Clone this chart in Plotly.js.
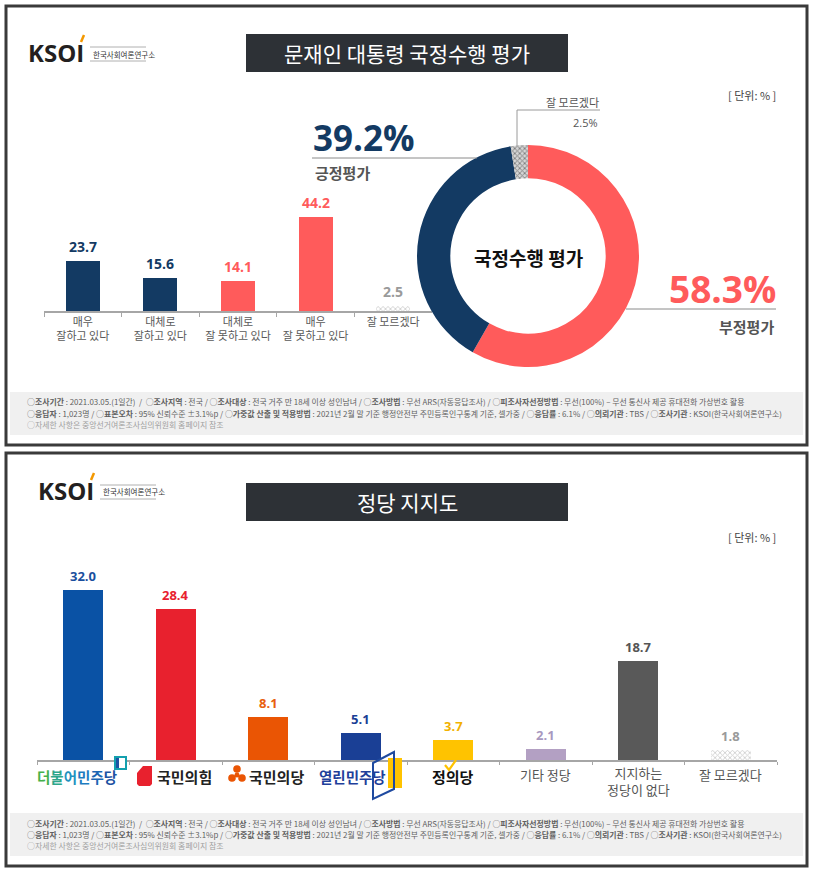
<!DOCTYPE html>
<html><head><meta charset="utf-8">
<script src="https://cdn.plot.ly/plotly-3.0.1.min.js"></script>
<style>html,body{margin:0;padding:0;background:#fff;}#chart{width:814px;height:874px;}</style>
</head><body><div id="chart"></div>
<script>
// ---------- DATA ----------
const evalCategories = ['매우<br>잘하고 있다', '대체로<br>잘하고 있다', '대체로<br>잘 못하고 있다', '매우<br>잘 못하고 있다', '잘 모르겠다'];
const evalValues = [23.7, 15.6, 14.1, 44.2, 2.5];
const donutLabels = ['부정평가', '긍정평가', '잘 모르겠다'];
const donutValues = [58.3, 39.2, 2.5];
const partyCategories = ['더불어민주당', '국민의힘', '국민의당', '열린민주당', '정의당', '기타 정당', '지지하는<br>정당이 없다', '잘 모르겠다'];
const partyValues = [32.0, 28.4, 8.1, 5.1, 3.7, 2.1, 18.7, 1.8];
const title1 = '문재인 대통령 국정수행 평가';
const title2 = '정당 지지도';
const donutCenter = '국정수행 평가';
const unitText = '[ 단위: % ]';
const footerLines = [
  '○<b>조사기간</b> : 2021.03.05.(1일간)  /  ○<b>조사지역</b> : 전국 / ○<b>조사대상</b> : 전국 거주 만 18세 이상 성인남녀 / ○<b>조사방법</b> : 무선 ARS(자동응답조사) / ○<b>피조사자선정방법</b> : 무선(100%) – 무선 통신사 제공 휴대전화 가상번호 활용',
  '○<b>응답자</b> : 1,023명 / ○<b>표본오차</b> : 95% 신뢰수준 ±3.1%p / ○<b>가중값 산출 및 적용방법</b> : 2021년 2월 말 기준 행정안전부 주민등록인구통계 기준, 셀가중 / ○<b>응답률</b> : 6.1% / ○<b>의뢰기관</b> : TBS / ○<b>조사기관</b> : KSOI(한국사회여론연구소)',
  '○자세한 사항은 중앙선거여론조사심의위원회 홈페이지 참조'
];

// ---------- STYLE ----------
const W = 814, H = 874;
const KR = '"Noto Sans CJK KR", "Noto Sans", sans-serif';
const NUM = '"Open Sans", "Noto Sans CJK KR", sans-serif';
const NAVY = '#133a63', CORAL = '#ff5b5b';
const evalColors = [NAVY, NAVY, CORAL, CORAL, '#d0d0d0'];
const evalLabelColors = [NAVY, NAVY, CORAL, CORAL, '#9a9a9a'];
const partyColors = ['#0a52a5', '#e8212e', '#ea5504', '#1a3f95', '#ffc300', '#b3a0c3', '#595959', '#d0d0d0'];
const partyLabelColors = ['#1a4f9e', '#e8212e', '#e8600e', '#1a3f95', '#f2b100', '#a898bf', '#555555', '#9a9a9a'];
const PAT = {fgcolor:'#7a7a7a', bgcolor:'#d6d6d6', size:3.5, solidity:0.45};

const fx = x => x / W, fy = y => 1 - y / H;
function rect(x0, y0, x1, y1, o) { return Object.assign({type:'rect', xref:'paper', yref:'paper', x0:fx(x0), x1:fx(x1), y0:fy(y0), y1:fy(y1), line:{width:0}}, o||{}); }
function line(x0, y0, x1, y1, color, w) { return {type:'line', xref:'paper', yref:'paper', x0:fx(x0), x1:fx(x1), y0:fy(y0), y1:fy(y1), line:{color:color, width:w||1}}; }
function path(pts, close, o) {
  let s = pts.map((p,i) => (i? 'L ':'M ') + fx(p[0]).toFixed(5) + ' ' + fy(p[1]).toFixed(5)).join(' ');
  if (close) s += ' Z';
  return Object.assign({type:'path', xref:'paper', yref:'paper', path:s}, o||{});
}
function circ(cx, cy, r, color) { return {type:'circle', xref:'paper', yref:'paper', x0:fx(cx-r), x1:fx(cx+r), y0:fy(cy+r), y1:fy(cy-r), fillcolor:color, line:{width:0}}; }
function txt(x, y, text, font, o) { return Object.assign({xref:'paper', yref:'paper', x:fx(x), y:fy(y), text:text, showarrow:false, font:font, xanchor:'center', yanchor:'middle'}, o||{}); }

// ---------- TRACES ----------
const traces = [
  { type:'bar', x:evalCategories, y:evalValues, xaxis:'x', yaxis:'y', width:0.44,
    marker:{color:evalColors, line:{width:0},
      pattern:Object.assign({shape:evalValues.map((v,i)=> i===4?'x':'')}, PAT)},
    hoverinfo:'none' },
  { type:'pie', labels:donutLabels, values:donutValues, sort:false, direction:'clockwise', rotation:0,
    hole:0.70, textinfo:'none', hoverinfo:'none',
    domain:{x:[fx(417), fx(639)], y:[fy(367), fy(145)]},
    marker:{colors:[CORAL, NAVY, '#d0d0d0'], line:{width:0},
      pattern:Object.assign({shape:['', '', 'x']}, PAT)} },
  { type:'bar', x:partyCategories, y:partyValues, xaxis:'x2', yaxis:'y2', width:0.43,
    marker:{color:partyColors, line:{width:0},
      pattern:Object.assign({shape:partyValues.map((v,i)=> i===7?'x':'')}, PAT)},
    hoverinfo:'none' }
];

// ---------- ANNOTATIONS ----------
const ann = [];
ann.push(txt(407, 53, title1, {family:KR, size:21, color:'#ffffff'}));
ann.push(txt(407, 502, title2, {family:KR, size:21, color:'#ffffff'}));
[[26, 52, 91, 54], [36, 490, 101, 492]].forEach(([lx, ly, sx, sy]) => {
  ann.push(txt(lx, ly, 'KSOI', {family:NUM, size:24, color:'#231f20', weight:700}, {xanchor:'left'}));
  ann.push(txt(sx, sy, '한국사회여론연구소', {family:KR, size:7.5, color:'#333'}, {xanchor:'left'}));
});
ann.push(txt(778, 95, unitText, {family:KR, size:11, color:'#444'}, {xanchor:'right'}));
ann.push(txt(778, 537, unitText, {family:KR, size:11, color:'#444'}, {xanchor:'right'}));

// chart1 value labels
evalCategories.forEach((c,i) => ann.push({xref:'x', yref:'y', x:c, y:evalValues[i], text:'<b>'+evalValues[i].toFixed(1)+'</b>',
  showarrow:false, yanchor:'bottom', yshift:3, font:{family:NUM, size:14, color:evalLabelColors[i]}}));
// donut labels
ann.push(txt(311, 137, '<b>'+donutValues[1].toFixed(1)+'%</b>', {family:NUM, size:35, color:NAVY}, {xanchor:'left'}));
ann.push(txt(313, 172, '<b>'+donutLabels[1]+'</b>', {family:KR, size:15, color:'#555'}, {xanchor:'left'}));
ann.push(txt(778, 288, '<b>'+donutValues[0].toFixed(1)+'%</b>', {family:NUM, size:37, color:CORAL}, {xanchor:'right'}));
ann.push(txt(776, 326, '<b>'+donutLabels[0]+'</b>', {family:KR, size:15, color:'#555'}, {xanchor:'right'}));
ann.push(txt(601, 102, donutLabels[2], {family:KR, size:11, color:'#555'}, {xanchor:'right'}));
ann.push(txt(600, 122, donutValues[2].toFixed(1)+'%', {family:NUM, size:11, color:'#555'}, {xanchor:'right'}));
ann.push(txt(528, 257, '<b>'+donutCenter+'</b>', {family:KR, size:19, color:'#111'}));

// chart2 value labels
partyCategories.forEach((c,i) => ann.push({xref:'x2', yref:'y2', x:c, y:partyValues[i], text:'<b>'+partyValues[i].toFixed(1)+'</b>',
  showarrow:false, yanchor:'bottom', yshift:3, font:{family:NUM, size:13, color:partyLabelColors[i]}}));
// chart2 category labels (party logos as styled text)
const gradient = ['#45b14b', '#2ea68b', '#1f92c0', '#1d7cc0', '#1c66b3', '#1d53a3'];
const partyLabelText = [
  '<b>' + partyCategories[0].split('').map((ch,k)=>'<span style="color:'+gradient[k]+'">'+ch+'</span>').join('') + '</b>',
  '<b>'+partyCategories[1]+'</b>', '<b>'+partyCategories[2]+'</b>', '<b>'+partyCategories[3]+'</b>', '<b>'+partyCategories[4]+'</b>',
  partyCategories[5], partyCategories[6], partyCategories[7]
];
const partyLabelStyle = [
  {size:14.5, color:'#1d66b3', dx:-6, y:776},
  {size:15, color:'#222', dx:9, y:776},
  {size:15, color:'#222', dx:8, y:776},
  {size:14.5, color:'#1f3f9a', dx:-8, y:776},
  {size:15, color:'#111', dx:0, y:776},
  {size:13, color:'#555', dx:0, y:774},
  {size:13, color:'#555', dx:0, y:781},
  {size:13, color:'#555', dx:0, y:774}
];
partyCategories.forEach((c,i) => {
  const s = partyLabelStyle[i];
  ann.push({xref:'x2', yref:'paper', x:c, y:fy(s.y), xshift:s.dx, text:partyLabelText[i], showarrow:false,
    xanchor:'center', yanchor:'middle', font:{family:KR, size:s.size, color:s.color}});
});
// footers
[[402, 413, 424], [823, 834, 845]].forEach(ys => {
  footerLines.forEach((t,k) => ann.push(txt(25, ys[k], t, {family:KR, size:7.9, color: k===2 ? '#a0a0a0' : '#606060'}, {xanchor:'left'})));
});

// ---------- SHAPES ----------
const shapes = [
  rect(10, 392, 803, 435, {fillcolor:'#f0f0f0', layer:'below'}),
  rect(10, 813, 803, 856, {fillcolor:'#f0f0f0', layer:'below'}),
  rect(6, 6, 807, 445, {line:{color:'#3a3a3a', width:3}}),
  rect(6, 453, 807, 866, {line:{color:'#3a3a3a', width:3}}),
  rect(246, 34, 568, 72, {fillcolor:'#2d3136'}),
  rect(246, 483, 568, 521, {fillcolor:'#2d3136'}),
  // logo decorations
  line(90, 47, 146, 47, '#b0b0b0', 1), line(90, 61, 146, 61, '#b0b0b0', 1),
  line(81, 42, 84, 35, '#f39800', 2.5),
  line(100, 485, 156, 485, '#b0b0b0', 1), line(100, 499, 156, 499, '#b0b0b0', 1),
  line(91, 480, 94, 473, '#f39800', 2.5),
  // donut leader lines
  line(312, 158, 477, 158, '#8a8a8a', 1),
  line(626, 309, 776, 309, '#8a8a8a', 1),
  path([[517,146],[517,110],[600,110]], false, {line:{color:'#9a9a9a', width:1}}),
  // 더불어민주당 icon
  rect(115, 757, 126, 769, {fillcolor:'#ffffff', line:{color:'#13a0ae', width:2}}),
  rect(116, 758, 119, 768, {fillcolor:'#1d53a3'}),
  // 국민의힘 icon
  path([[143,766],[152,766],[152,784],[150,786],[139,786],[137,784],[137,773]], true, {fillcolor:'#e8212e', line:{width:0}}),
  // 국민의당 icon
  circ(237, 769, 3.8, '#ea5504'), circ(232, 778, 3.8, '#ea5504'), circ(242, 778, 3.8, '#ea5504'), circ(237, 775, 2.5, '#ea5504'),
  // 열린민주당 icon
  rect(388, 758, 402, 788, {fillcolor:'#ffc300'}),
  path([[373,763],[394,752],[394,789],[373,799]], true, {line:{color:'#1f4aa0', width:2}}),
  // 정의당 check
  path([[445,765],[449,770],[456,760]], false, {line:{color:'#ffc300', width:2.2}})
];

const layout = {
  width:W, height:H, margin:{l:0, r:0, t:0, b:0}, paper_bgcolor:'#ffffff', plot_bgcolor:'rgba(0,0,0,0)',
  showlegend:false, bargap:0,
  xaxis:{domain:[fx(44), fx(432)], anchor:'y', type:'category', range:[-0.5, 4.5], showline:true, linecolor:'#a6a6a6', linewidth:1.5,
    ticks:'outside', tickson:'boundaries', ticklen:4, tickcolor:'#a6a6a6', tickwidth:1,
    tickfont:{family:KR, size:11, color:'#595959'}, showgrid:false, zeroline:false, fixedrange:true},
  yaxis:{domain:[fy(311), fy(205)], anchor:'x', range:[0, 50], visible:false, fixedrange:true},
  xaxis2:{domain:[fx(37), fx(777)], anchor:'y2', type:'category', range:[-0.5, 7.5], showline:true, linecolor:'#a6a6a6', linewidth:1.5,
    ticks:'outside', tickson:'boundaries', ticklen:3, tickcolor:'#a6a6a6', tickwidth:1, showticklabels:false,
    showgrid:false, zeroline:false, fixedrange:true},
  yaxis2:{domain:[fy(760), fy(579.5)], anchor:'x2', range:[0, 34], visible:false, fixedrange:true},
  annotations:ann, shapes:shapes
};
Plotly.newPlot('chart', traces, layout, {displayModeBar:false, staticPlot:true});
</script></body></html>
